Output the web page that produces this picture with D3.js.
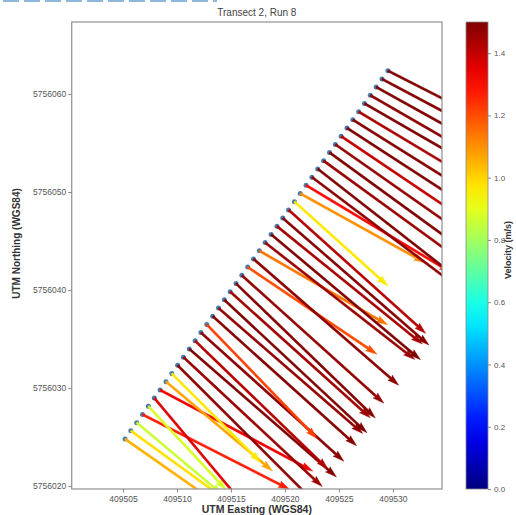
<!DOCTYPE html>
<html><head><meta charset="utf-8">
<script src="https://cdn.jsdelivr.net/npm/d3@7"></script>
<style>
body{margin:0;background:#fff}
svg{display:block}
text{font-family:"Liberation Sans",Arial,sans-serif}
</style>
</head><body>
<svg id="c" width="516" height="515"></svg>
<script>
// ---------- data ----------
const chartTitle = "Transect 2, Run 8";
const xTitle = "UTM Easting (WGS84)";
const yTitle = "UTM Northing (WGS84)";
const cTitle = "Velocity (m/s)";
const xTickValues = [409505, 409510, 409515, 409520, 409525, 409530];
const yTickValues = [5756020, 5756030, 5756040, 5756050, 5756060];
const cTickValues = [0.0, 0.2, 0.4, 0.6, 0.8, 1.0, 1.2, 1.4];

// start points of the velocity vectors along the transect (UTM, m)
const easting = [409505.19,409505.73,409506.27,409506.81,409507.35,409507.90,409508.44,409508.98,409509.52,409510.06,
  409510.60,409511.14,409511.68,409512.22,409512.76,409513.31,409513.85,409514.39,409514.93,409515.47,
  409516.01,409516.55,409517.09,409517.63,409518.17,409518.72,409519.26,409519.80,409520.34,409520.88,
  409521.42,409521.96,409522.50,409523.04,409523.58,409524.13,409524.67,409525.21,409525.75,409526.29,
  409526.83,409527.37,409527.91,409528.45,409528.99,409529.54];
const northing = [5756024.80,5756025.64,5756026.47,5756027.31,5756028.14,5756028.98,5756029.81,5756030.65,5756031.48,5756032.32,
  5756033.15,5756033.99,5756034.82,5756035.66,5756036.49,5756037.33,5756038.16,5756039.00,5756039.83,5756040.67,
  5756041.50,5756042.34,5756043.17,5756044.01,5756044.84,5756045.68,5756046.51,5756047.35,5756048.18,5756049.02,
  5756049.85,5756050.69,5756051.52,5756052.36,5756053.19,5756054.03,5756054.86,5756055.70,5756056.53,5756057.37,
  5756058.20,5756059.04,5756059.87,5756060.71,5756061.54,5756062.38];
// velocity magnitude (m/s) and direction (bearing, degrees clockwise from north)
const speed = [1.05,0.98,0.86,1.27,0.88,1.36,1.33,1.07,0.97,1.48,
  1.46,1.50,1.42,1.48,1.22,1.49,1.47,1.50,1.45,1.49,
  1.47,1.20,1.48,1.14,1.46,1.50,1.44,1.49,1.42,0.97,
  1.10,1.30,1.48,1.50,1.46,1.50,1.47,1.40,1.50,1.49,
  1.44,1.50,1.48,1.50,1.49,1.50];
const bearing = [125,126,130,117,137,140,118,130,135,135,
  133,131,134,132,136,132,131,133,132,134,
  132,124,131,120,128,130,129,131,132,132,
  119,121,127,128,126,126,125,124,123,122,
  121,120,120,119,118,117];

// ---------- layout ----------
const svg = d3.select("#c");
const L = 71.7, R = 442, T = 22, B = 489;
const x = d3.scaleLinear().domain([409500.25, 409534.55]).range([L, R]);
const y = d3.scaleLinear().domain([5756019.7, 5756067.35]).range([B, T]);
const cScale = d3.scaleLinear().domain([0, 1.5]).range([489, 22]);
const pxPerMs = 130; // quiver scale (px per m/s)

function jet(t){
  const c = v => Math.max(0, Math.min(1, v));
  const r = c(1.5 - Math.abs(4*t - 3)), g = c(1.5 - Math.abs(4*t - 2)), b = c(1.5 - Math.abs(4*t - 1));
  return d3.rgb(r*255, g*255, b*255).formatHex();
}
const colorOf = v => jet(Math.max(0, Math.min(1, v / 1.5)));

// stray blue line at top
svg.append("line").attr("x1",3).attr("x2",217).attr("y1",1).attr("y2",1)
  .attr("stroke","#8fb7dc").attr("stroke-width",2).attr("stroke-dasharray","16,5");

// title
svg.append("text").attr("x",(L+R)/2).attr("y",16).attr("text-anchor","middle")
  .attr("font-size",10).attr("fill","#444").text(chartTitle);

// clip
svg.append("defs").append("clipPath").attr("id","pc").append("rect")
  .attr("x",L).attr("y",T).attr("width",R-L).attr("height",B-T);

const plot = svg.append("g").attr("clip-path","url(#pc)");

const idx = d3.range(easting.length);
// dots
plot.selectAll("circle.d").data(idx).join("circle").attr("class","d")
  .attr("cx", i => x(easting[i])).attr("cy", i => y(northing[i])).attr("r",2.5)
  .attr("fill","#4a7cab");

// arrows (quiver style)
const w = 2.3;
function arrowPath(i){
  const len = speed[i] * pxPerMs;
  const th = (bearing[i] - 90) * Math.PI / 180; // screen angle below east
  const ca = Math.cos(th), sa = Math.sin(th);
  const x0 = x(easting[i]), y0 = y(northing[i]);
  const pts = [[0,-w/2],[len-4.5*w,-w/2],[len-5*w,-1.5*w],[len,0],[len-5*w,1.5*w],[len-4.5*w,w/2],[0,w/2]];
  return "M" + pts.map(([px,py]) => [x0 + px*ca - py*sa, y0 + px*sa + py*ca].map(v=>v.toFixed(2)).join(",")).join("L") + "Z";
}
plot.selectAll("path.a").data(idx).join("path").attr("class","a")
  .attr("d", arrowPath).attr("fill", i => colorOf(speed[i]))
  .attr("stroke", i => colorOf(speed[i])).attr("stroke-width",0.4);

// frame
svg.append("rect").attr("x",L).attr("y",T).attr("width",R-L).attr("height",B-T)
  .attr("fill","none").attr("stroke","#999").attr("stroke-width",1.3);

// axes
const xa = svg.append("g").attr("transform",`translate(0,${B})`)
  .call(d3.axisBottom(x).tickValues(xTickValues).tickFormat(d3.format("d")).tickSize(3.5).tickPadding(3));
const ya = svg.append("g").attr("transform",`translate(${L},0)`)
  .call(d3.axisLeft(y).tickValues(yTickValues).tickFormat(d3.format("d")).tickSize(3.5).tickPadding(2));
[xa, ya].forEach(g => {
  g.select(".domain").remove();
  g.selectAll(".tick line").attr("stroke","#888");
  g.selectAll(".tick text").attr("fill","#555").attr("font-size",8.5)
    .attr("font-family","'Liberation Sans',Arial,sans-serif");
});

svg.append("text").attr("x",(L+R)/2).attr("y",513).attr("text-anchor","middle")
  .attr("font-size",10.5).attr("font-weight","bold").attr("fill","#333").text(xTitle);
svg.append("text").attr("transform",`translate(20,${(T+B)/2 - 12}) rotate(-90)`).attr("text-anchor","middle")
  .attr("font-size",10).attr("font-weight","bold").attr("fill","#333").text(yTitle);

// colorbar
const cbX = 466, cbW = 22;
const grad = svg.select("defs").append("linearGradient").attr("id","jet")
  .attr("x1",0).attr("x2",0).attr("y1",1).attr("y2",0);
d3.range(0, 1.0001, 0.05).forEach(t => grad.append("stop").attr("offset", t).attr("stop-color", jet(t)));
svg.append("rect").attr("x",cbX).attr("y",cScale(1.5)).attr("width",cbW).attr("height",cScale(0)-cScale(1.5))
  .attr("fill","url(#jet)").attr("stroke","#888").attr("stroke-width",0.8);
const cax = svg.append("g").attr("transform",`translate(${cbX+cbW},0)`)
  .call(d3.axisRight(cScale).tickValues(cTickValues).tickFormat(d3.format(".1f")).tickSize(3).tickPadding(3));
cax.select(".domain").remove();
cax.selectAll(".tick line").attr("stroke","#888");
cax.selectAll(".tick text").attr("fill","#555").attr("font-size",8)
  .attr("font-family","'Liberation Sans',Arial,sans-serif");
svg.append("text").attr("transform",`translate(511,250) rotate(-90)`).attr("text-anchor","middle")
  .attr("font-size",9).attr("font-weight","bold").attr("fill","#333").text(cTitle);
</script>
</body></html>
